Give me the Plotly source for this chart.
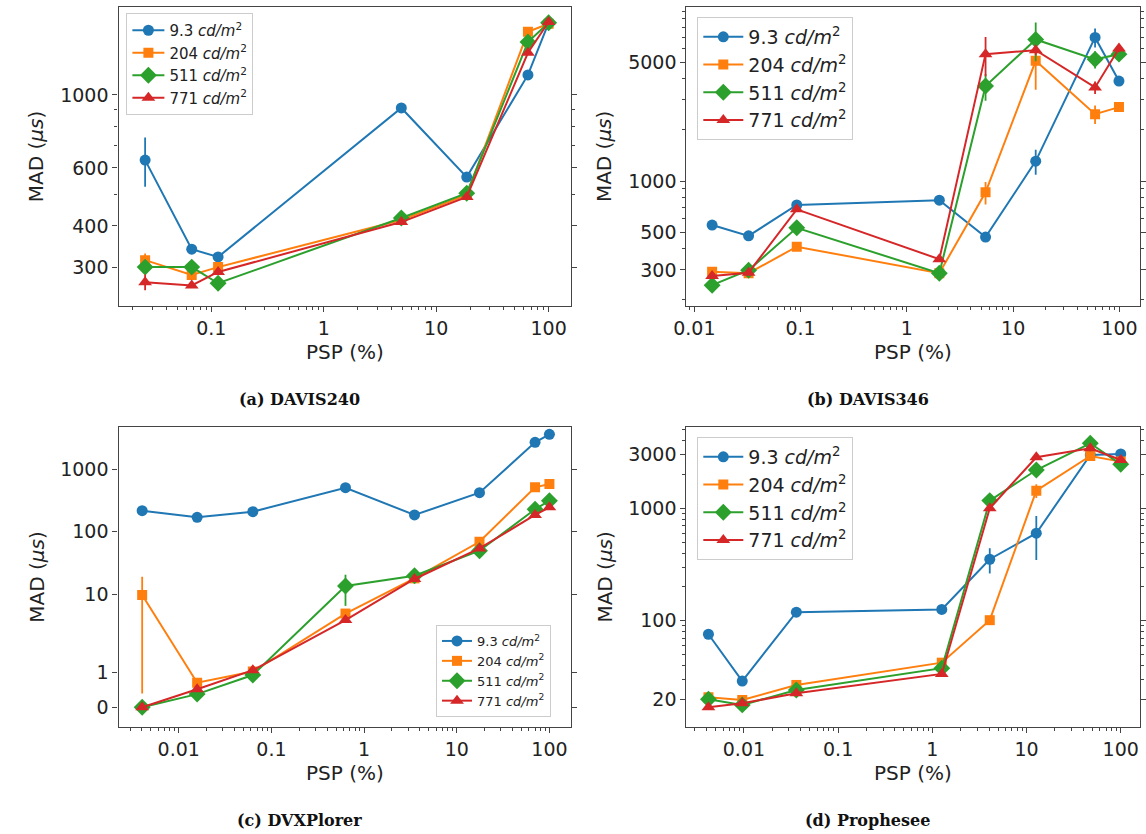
import math
import plotly.graph_objects as go

W, H = 1146, 834

# ---------------- data ----------------
series_names = ["9.3 <i>cd/m</i><sup>2</sup>", "204 <i>cd/m</i><sup>2</sup>",
                "511 <i>cd/m</i><sup>2</sup>", "771 <i>cd/m</i><sup>2</sup>"]

# (a) DAVIS240
a_psp = [0.0258, 0.067, 0.115, 4.9, 18.7, 65.5, 100]
a_9_3 = [634, 340, 322, 913, 563, 1150, 1656]
a_204 = [315, 284, 300, 417, 497, 1555, 1645]
a_511 = [300, 300, 268, 423, 503, 1448, 1656]
a_771 = [270, 264, 290, 411, 490, 1343, 1665]
a_9_3_err = [108, 6, 6, 10, 8, 20, 20]
a_204_err = [15, 8, 5, 5, 5, 20, 20]
a_511_err = [5, 5, 5, 5, 5, 20, 20]
a_771_err = [15, 5, 5, 5, 5, 20, 20]

# (b) DAVIS346
b_psp = [0.0147, 0.0324, 0.092, 2.02, 5.5, 16.3, 59, 99]
b_9_3 = [551, 476, 723, 772, 468, 1310, 7000, 3874]
b_204 = [293, 287, 411, 287, 858, 5100, 2476, 2723]
b_511 = [244, 299, 531, 287, 3621, 6810, 5200, 5580]
b_771 = [276, 289, 682, 347, 5580, 5890, 3556, 6020]
b_9_3_err = [15, 10, 20, 20, 20, 220, 900, 100]
b_204_err = [10, 10, 15, 10, 130, 1650, 310, 100]
b_511_err = [10, 10, 20, 10, 650, 1750, 600, 200]
b_771_err = [10, 10, 20, 10, 1450, 400, 300, 300]

# (c) DVXPlorer  (symlog axis, linthresh = 2)
c_psp = [0.00403, 0.0158, 0.063, 0.63, 3.5, 17.6, 70, 100]
c_9_3 = [217, 170, 209, 505, 185, 420, 2690, 3615]
c_204 = [9.7, 0.71, 1.03, 4.9, 17.9, 69, 513, 580]
c_511 = [0.0, 0.38, 0.93, 13.5, 19.7, 49.6, 228, 313]
c_771 = [0.0, 0.52, 1.07, 3.86, 17.5, 54, 185, 245]
c_9_3_err = [0, 0, 0, 0, 0, 0, 0, 0]
c_204_err = [9.3, 0, 0, 0, 0, 0, 0, 0]
c_511_err = [0, 0, 0, 7, 0, 0, 0, 0]
c_771_err = [0, 0, 0, 0, 0, 0, 0, 0]

# (d) Prophesee
d_psp = [0.0042, 0.0096, 0.036, 1.26, 4.07, 12.7, 47.5, 100]
d_9_3 = [75.7, 29, 119, 126, 352, 600, 2980, 3040]
d_204 = [20.8, 19.7, 26.8, 42.3, 101, 1434, 2920, 2600]
d_511 = [20, 17.8, 24.2, 37.8, 1170, 2190, 3785, 2460]
d_771 = [17, 18.4, 22.6, 33.6, 1000, 2845, 3420, 2690]
d_9_3_err = [0, 0, 0, 0, 89, 253, 150, 0]
d_204_err = [0, 0, 0, 0, 0, 200, 0, 0]
d_511_err = [0, 0, 0, 0, 0, 0, 0, 0]
d_771_err = [0, 0, 0, 0, 0, 0, 0, 0]

captions = ["(a) DAVIS240", "(b) DAVIS346", "(c) DVXPlorer", "(d) Prophesee"]
x_ticks = [0.01, 0.1, 1, 10, 100]
x_ticktext = ["0.01", "0.1", "1", "10", "100"]
a_yticks = [300, 400, 600, 1000]
b_yticks = [300, 500, 1000, 5000]
c_yticks = [0, 1, 10, 100, 1000]
d_yticks = [20, 100, 1000, 3000]

# ---------------- styling ----------------
COLORS = ["#1f77b4", "#ff7f0e", "#2ca02c", "#d62728"]
SYMBOLS = ["circle", "square", "diamond", "triangle-up"]
MSIZE = [11, 10, 13, 12]
FONT = "DejaVu Sans"
TXT = "#222222"
AXC = "#444444"


def symlog(v, L=2.0, linscale=1.0):
    adj = linscale / (1 - 1 / 10.0)
    if abs(v) <= L:
        return v * adj
    return math.copysign(L * (adj + math.log10(abs(v) / L)), v)


def px_x(p):
    return p / W


def px_y(p):
    return 1 - p / H


def log_minor(lo, hi):
    vals = []
    for d in range(lo, hi + 1):
        for k in range(1, 10):
            vals.append(k * 10 ** d)
    return vals


fig = go.Figure()

panels = [
    dict(psp=a_psp, ys=[a_9_3, a_204, a_511, a_771],
         errs=[a_9_3_err, a_204_err, a_511_err, a_771_err], kind="log", legend="legend"),
    dict(psp=b_psp, ys=[b_9_3, b_204, b_511, b_771],
         errs=[b_9_3_err, b_204_err, b_511_err, b_771_err], kind="log", legend="legend2"),
    dict(psp=c_psp, ys=[c_9_3, c_204, c_511, c_771],
         errs=[c_9_3_err, c_204_err, c_511_err, c_771_err], kind="symlog", legend="legend3"),
    dict(psp=d_psp, ys=[d_9_3, d_204, d_511, d_771],
         errs=[d_9_3_err, d_204_err, d_511_err, d_771_err], kind="log", legend="legend4"),
]

for pi, p in enumerate(panels):
    xa = "x" if pi == 0 else f"x{pi + 1}"
    ya = "y" if pi == 0 else f"y{pi + 1}"
    for si in range(4):
        vals = p["ys"][si]
        err = p["errs"][si]
        if p["kind"] == "symlog":
            yv = [symlog(v) for v in vals]
            plus = [symlog(v + e) - symlog(v) for v, e in zip(vals, err)]
            minus = [symlog(v) - symlog(v - e) for v, e in zip(vals, err)]
            ey = dict(type="data", symmetric=False, array=plus, arrayminus=minus,
                      width=0, thickness=1.8, color=COLORS[si], visible=True)
        else:
            yv = vals
            ey = dict(type="data", array=err, width=0, thickness=1.8,
                      color=COLORS[si], visible=True)
        fig.add_trace(go.Scatter(
            x=p["psp"], y=yv, mode="lines+markers", name=series_names[si],
            xaxis=xa, yaxis=ya, legend=p["legend"],
            line=dict(color=COLORS[si], width=2),
            marker=dict(symbol=SYMBOLS[si], size=MSIZE[si], color=COLORS[si],
                        line=dict(width=0)),
            error_y=ey,
        ))

# axes geometry (pixels)
cols = [(107, 566), (683, 1143)]
rows = [(7, 306), (427, 727)]
x_ranges = [(-1.825, 2.2), (-2.074, 2.194), (-2.65, 2.234), (-2.61, 2.205)]
y_ranges = [(2.359, 3.267), (2.265, 4.024), (-0.63, 8.97), (1.054, 3.723)]
y_ticks = [a_yticks, b_yticks, c_yticks, d_yticks]
y_minor = [
    [v for v in log_minor(2, 3) if v not in a_yticks],
    [v for v in log_minor(2, 4) if v not in b_yticks],
    None,
    [v for v in log_minor(1, 3) if v not in d_yticks],
]
x_minor = [v for v in log_minor(-3, 2) if v not in x_ticks]

tickfont = dict(family=FONT, size=19, color=TXT)
layout = {}
for pi in range(4):
    c = cols[pi % 2]
    r = rows[pi // 2]
    xk = "xaxis" if pi == 0 else f"xaxis{pi + 1}"
    yk = "yaxis" if pi == 0 else f"yaxis{pi + 1}"
    xid = "x" if pi == 0 else f"x{pi + 1}"
    yid = "y" if pi == 0 else f"y{pi + 1}"
    layout[xk] = dict(
        type="log", domain=[px_x(c[0]), px_x(c[1])], anchor=yid,
        range=list(x_ranges[pi]), tickmode="array", tickvals=x_ticks, ticktext=x_ticktext,
        ticks="outside", ticklen=5, tickwidth=1.2, tickcolor=AXC,
        showline=True, linecolor=AXC, linewidth=1.3, mirror=True,
        showgrid=False, zeroline=False, tickfont=tickfont,
        minor=dict(tickvals=x_minor, ticks="outside", ticklen=3, tickwidth=1,
                   tickcolor=AXC, showgrid=False),
    )
    if pi == 2:
        tv = [symlog(v) for v in c_yticks]
        layout[yk] = dict(
            type="linear", domain=[px_y(r[1]), px_y(r[0])], anchor=xid,
            range=list(y_ranges[pi]), tickmode="array", tickvals=tv,
            ticktext=[str(v) for v in c_yticks],
        )
    else:
        layout[yk] = dict(
            type="log", domain=[px_y(r[1]), px_y(r[0])], anchor=xid,
            range=list(y_ranges[pi]), tickmode="array", tickvals=y_ticks[pi],
            ticktext=[str(v) for v in y_ticks[pi]],
            minor=dict(tickvals=y_minor[pi], ticks="outside", ticklen=3, tickwidth=1,
                       tickcolor=AXC, showgrid=False),
        )
    layout[yk].update(dict(
        ticks="outside", ticklen=5, tickwidth=1.2, tickcolor=AXC,
        showline=True, linecolor=AXC, linewidth=1.3, mirror="allticks",
        showgrid=False, zeroline=False, tickfont=tickfont,
    ))

legend_common = dict(xanchor="left", yanchor="top", bgcolor="rgba(255,255,255,0.85)",
                     bordercolor="#cccccc", borderwidth=1, tracegroupgap=0)
layout["legend"] = dict(x=px_x(115), y=px_y(13), font=dict(family=FONT, size=15, color=TXT),
                        itemwidth=32, **legend_common)
layout["legend2"] = dict(x=px_x(694), y=px_y(17), font=dict(family=FONT, size=19, color=TXT),
                         itemwidth=40, **legend_common)
layout["legend3"] = dict(x=px_x(429), y=px_y(625), font=dict(family=FONT, size=13, color=TXT),
                         itemwidth=30, **legend_common)
layout["legend4"] = dict(x=px_x(694), y=px_y(437), font=dict(family=FONT, size=19, color=TXT),
                         itemwidth=40, **legend_common)

annotations = []
for pi in range(4):
    c = cols[pi % 2]
    r = rows[pi // 2]
    cx = (c[0] + c[1]) / 2
    cy = (r[0] + r[1]) / 2
    annotations.append(dict(text="PSP (%)", x=px_x(cx), y=px_y(r[1] + 46), xref="paper",
                            yref="paper", showarrow=False, xanchor="center", yanchor="middle",
                            font=dict(family=FONT, size=20, color=TXT)))
    annotations.append(dict(text="MAD (<i>μs</i>)", x=px_x(c[0] - 83), y=px_y(cy),
                            xref="paper", yref="paper", showarrow=False, textangle=-90,
                            xanchor="center", yanchor="middle",
                            font=dict(family=FONT, size=20, color=TXT)))
    annotations.append(dict(text="<b>" + captions[pi] + "</b>", x=px_x(c[0] + 184),
                            y=px_y(r[1] + 93), xref="paper", yref="paper", showarrow=False,
                            xanchor="center", yanchor="middle",
                            font=dict(family="DejaVu Serif", size=16, color="#111111")))

fig.update_layout(
    width=W, height=H, margin=dict(l=0, r=0, t=0, b=0),
    paper_bgcolor="white", plot_bgcolor="white", showlegend=True,
    annotations=annotations, **layout,
)

fig.write_html("out.html")
